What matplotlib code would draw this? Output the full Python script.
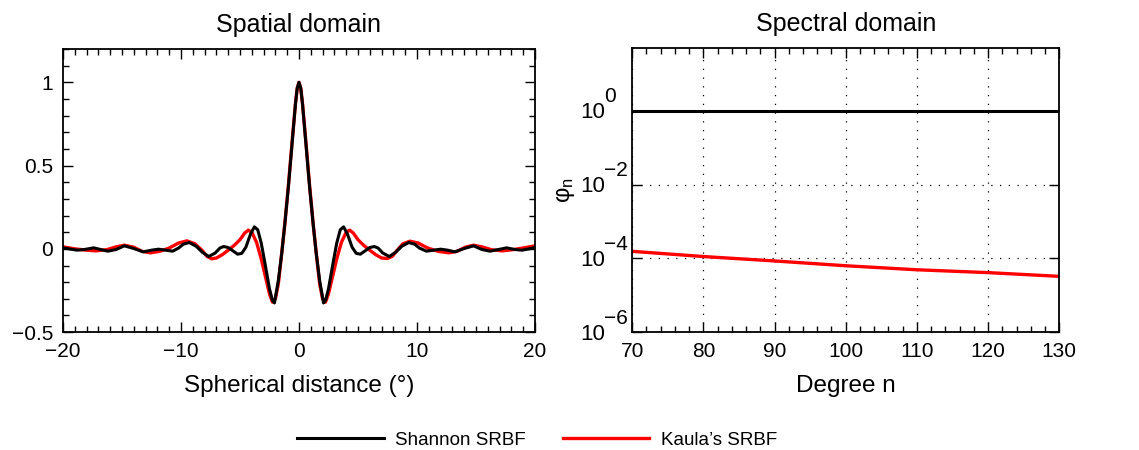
import matplotlib
matplotlib.use('Agg')
import matplotlib.pyplot as plt
import matplotlib.transforms as mtransforms
from matplotlib.ticker import MultipleLocator, FixedLocator, NullLocator, NullFormatter, FuncFormatter

plt.rcParams['font.family'] = ['Liberation Sans', 'DejaVu Sans']
plt.rcParams['mathtext.fontset'] = 'custom'
plt.rcParams['mathtext.rm'] = 'Liberation Sans'
plt.rcParams['mathtext.it'] = 'Liberation Sans:italic'

# Spatial domain, Shannon SRBF
shannon_dist = [-20.0, -19.5, -18.8, -18.2, -17.4, -16.8, -16.2, -15.5, -14.8, -14.0, -13.2,
                -12.5, -11.9, -11.3, -10.7, -10.2, -9.8, -9.3, -8.7, -8.2, -7.65, -7.1, -6.7,
                -6.38, -6.0, -5.6, -5.2, -4.85, -4.5, -4.1, -3.78, -3.5, -3.2, -2.9, -2.5,
                -2.25, -2.08, -1.75, -1.45, -1.2, -0.9, -0.6, -0.3, -0.15, 0.0,
                0.15, 0.3, 0.6, 0.9, 1.2, 1.45, 1.75, 2.08, 2.25, 2.5, 2.9, 3.2, 3.5, 3.78, 4.1,
                4.5, 4.85, 5.2, 5.6, 6.0, 6.38, 6.7, 7.1, 7.65, 8.2, 8.7, 9.3, 9.8, 10.2,
                10.8, 11.4, 12.0, 12.6, 13.2, 14.0, 14.8, 15.5, 16.2, 16.9, 17.6, 18.3,
                18.9, 19.5, 20.0]
shannon_val = [0.006, 0.0, -0.008, -0.004, 0.006, -0.004, -0.014, -0.004, 0.018, 0.002, -0.018,
               -0.008, -0.002, -0.008, -0.014, 0.005, 0.028, 0.038, 0.015, -0.02, -0.046, -0.025, 0.005,
               0.014, 0.008, -0.012, -0.032, -0.027, 0.01, 0.09, 0.132, 0.115, 0.035, -0.08, -0.24,
               -0.31, -0.325, -0.19, -0.02, 0.15, 0.37, 0.62, 0.87, 0.965, 1.0,
               0.965, 0.87, 0.62, 0.37, 0.15, -0.02, -0.19, -0.325, -0.31, -0.24, -0.08, 0.035, 0.115, 0.132, 0.09,
               0.01, -0.027, -0.032, -0.012, 0.008, 0.014, 0.005, -0.025, -0.046, -0.02, 0.015, 0.038, 0.028, 0.005,
               -0.014, -0.008, -0.002, -0.008, -0.018, 0.002, 0.018, -0.004, -0.014, -0.004, 0.006, -0.004,
               -0.008, 0.0, 0.008]

# Spatial domain, Kaula's SRBF
kaula_dist = [-20.0, -19.0, -18.0, -17.2, -16.3, -15.5, -14.8, -14.0, -13.3, -12.6, -11.8,
              -11.0, -10.2, -9.5, -8.8, -8.2, -7.8, -7.4, -7.0, -6.5, -6.0, -5.5, -5.0, -4.6,
              -4.3, -4.0, -3.6, -3.2, -2.8, -2.5, -2.25, -2.0, -1.75, -1.5, -1.2, -0.9, -0.6,
              -0.3, -0.15, 0.0, 0.15, 0.3, 0.6, 0.9, 1.2, 1.5, 1.75, 2.0, 2.25, 2.5, 2.8, 3.2, 3.6, 4.0,
              4.3, 4.6, 5.0, 5.5, 6.0, 6.5, 7.0, 7.5, 7.9, 8.3, 8.8, 9.4, 10.1, 10.9, 11.8,
              12.7, 13.4, 14.1, 14.8, 15.5, 16.3, 17.2, 18.0, 19.0, 20.0]
kaula_val = [0.012, 0.0, -0.008, -0.012, -0.005, 0.012, 0.022, 0.01, -0.015, -0.024, -0.015,
             0.005, 0.035, 0.048, 0.03, -0.01, -0.045, -0.06, -0.055, -0.035, -0.008, 0.02, 0.055, 0.095,
             0.112, 0.1, 0.04, -0.06, -0.18, -0.27, -0.32, -0.3, -0.21, -0.05, 0.15, 0.38, 0.63,
             0.87, 0.965, 1.0, 0.965, 0.87, 0.63, 0.38, 0.15, -0.05, -0.21, -0.3, -0.32, -0.27, -0.18, -0.06, 0.04, 0.1,
             0.112, 0.095, 0.055, 0.02, -0.008, -0.035, -0.055, -0.058, -0.045, -0.01, 0.03, 0.046, 0.035, 0.005, -0.015,
             -0.024, -0.015, 0.01, 0.022, 0.012, -0.005, -0.012, -0.006, 0.005, 0.018]

# Spectral domain
degree = [70, 80, 90, 100, 110, 120, 130]
shannon_spec = [1.0, 1.0, 1.0, 1.0, 1.0, 1.0, 1.0]
kaula_spec = [1.55e-4, 1.12e-4, 8.5e-5, 6.3e-5, 4.9e-5, 4.1e-5, 3.25e-5]
spec_exponents = [0, -2, -4, -6]

fig = plt.figure(figsize=(11.39, 4.5), dpi=100)
ax1 = fig.add_axes([0.0553, 0.262, 0.4144, 0.629])
ax2 = fig.add_axes([0.555, 0.262, 0.375, 0.631])

fs = 15
fs_lab = 18


def plain(v, pos):
    return ('%g' % v).replace('-', '\u2212')


# left panel
ax1.plot(kaula_dist, kaula_val, color='red', linewidth=2.4)
ax1.plot(shannon_dist, shannon_val, color='black', linewidth=2.2)
ax1.set_xlim(-20, 20)
ax1.set_ylim(-0.5, 1.2)
ax1.xaxis.set_major_locator(FixedLocator([-20, -10, 0, 10, 20]))
ax1.xaxis.set_minor_locator(MultipleLocator(1))
ax1.yaxis.set_major_locator(FixedLocator([-0.5, 0, 0.5, 1]))
ax1.yaxis.set_minor_locator(MultipleLocator(0.1))
ax1.xaxis.set_major_formatter(FuncFormatter(plain))
ax1.yaxis.set_major_formatter(FuncFormatter(plain))
ax1.set_title('Spatial domain', fontsize=fs_lab, pad=12)
ax1.set_xlabel('Spherical distance (\u00b0)', fontsize=17.5, labelpad=10)

# right panel
ax2.semilogy(degree, shannon_spec, color='black', linewidth=2.2)
ax2.semilogy(degree, kaula_spec, color='red', linewidth=2.4)
ax2.set_xlim(70, 130)
ax2.set_ylim(1e-6, 10 ** 1.7)
ax2.xaxis.set_major_locator(MultipleLocator(10))
ax2.xaxis.set_minor_locator(MultipleLocator(2))
ax2.yaxis.set_major_locator(FixedLocator([10.0 ** e for e in spec_exponents]))
ax2.yaxis.set_major_formatter(NullFormatter())
ax2.yaxis.set_minor_locator(NullLocator())
ax2.grid(True, which='major', linestyle=(0, (1, 6)), color='black', linewidth=0.9)
ax2.set_title('Spectral domain', fontsize=fs_lab, pad=12)
ax2.set_xlabel('Degree n', fontsize=17.5, labelpad=10)
ax2.set_ylabel('\u03c6$_\\mathrm{n}$', fontsize=17)
ax2.yaxis.set_label_coords(-0.13, 0.5)

# MATLAB-style 10^e labels with a large exponent
blend = mtransforms.blended_transform_factory(ax2.transAxes, ax2.transData)
for e in spec_exponents:
    base = mtransforms.offset_copy(blend, fig=fig, x=0, y=-2, units='dots')
    sup = mtransforms.offset_copy(blend, fig=fig, x=0, y=14, units='dots')
    ax2.text(-0.064, 10.0 ** e, '10', transform=base, ha='right', va='center', fontsize=16)
    ax2.text(-0.066, 10.0 ** e, str(e).replace('-', '\u2212'), transform=sup, ha='left',
             va='center', fontsize=15)

for ax in (ax1, ax2):
    ax.tick_params(which='both', direction='in', top=True, right=True, labelsize=fs)
    ax.tick_params(which='major', length=7, width=1, pad=7)
    ax.tick_params(which='minor', length=4, width=1)
    for s in ax.spines.values():
        s.set_linewidth(1.3)

handles = [ax1.lines[1], ax1.lines[0]]
fig.legend(handles, ['Shannon SRBF', "Kaula\u2019s SRBF"], loc='lower center',
           bbox_to_anchor=(0.4715, -0.035), ncol=2, frameon=False, fontsize=13.5,
           handlelength=4.6, columnspacing=2.0, handletextpad=0.6)

fig.savefig('out.png', dpi=100)
